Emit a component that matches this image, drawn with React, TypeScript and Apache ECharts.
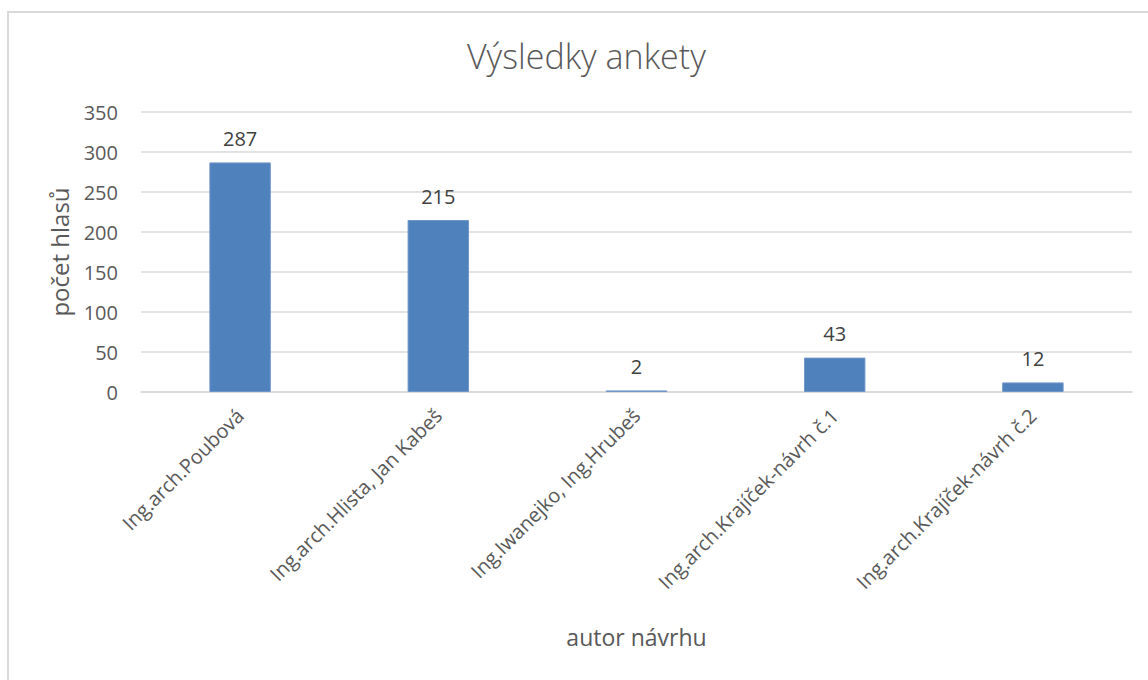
import React, { useEffect, useRef } from "react";
import * as echarts from "echarts";

const categories = [
  "Ing.arch.Poubová",
  "Ing.arch.Hlista, Jan Kabeš",
  "Ing.Iwanejko, Ing.Hrubeš",
  "Ing.arch.Krajíček-návrh č.1",
  "Ing.arch.Krajíček-návrh č.2",
];
const votes = [287, 215, 2, 43, 12];
const yTicks = { min: 0, max: 350, interval: 50 };

const FONT = "'Open Sans', 'Noto Sans', sans-serif";
const TEXT = "#595959";

export default function App() {
  const ref = useRef<HTMLDivElement>(null);
  useEffect(() => {
    if (!ref.current) return;
    const chart = echarts.init(ref.current, undefined, { renderer: "svg" });
    chart.setOption({
      animation: false,
      backgroundColor: "#ffffff",
      title: {
        text: "Výsledky ankety",
        left: 462,
        top: 34,
        textStyle: { fontFamily: FONT, fontSize: 34, fontWeight: 300, color: TEXT },
      },
      graphic: [
        {
          type: "rect",
          shape: { x: 8, y: 12, width: 1200, height: 720 },
          style: { fill: "none", stroke: "#d9d9d9", lineWidth: 2 },
          silent: true,
          z: -1,
        },
      ],
      grid: { left: 141, right: 16, top: 112, bottom: 288 },
      xAxis: {
        type: "category",
        data: categories,
        name: "autor návrhu",
        nameLocation: "middle",
        nameGap: 233,
        nameTextStyle: { fontFamily: FONT, fontSize: 23, color: TEXT },
        axisLine: { lineStyle: { color: "#d9d9d9", width: 1.5 } },
        axisTick: { show: false },
        axisLabel: {
          interval: 0,
          rotate: 45,
          margin: 20,
          fontFamily: FONT,
          fontSize: 20,
          color: TEXT,
        },
      },
      yAxis: {
        type: "value",
        min: yTicks.min,
        max: yTicks.max,
        interval: yTicks.interval,
        name: "počet hlasů",
        nameLocation: "middle",
        nameGap: 70,
        nameTextStyle: { fontFamily: FONT, fontSize: 24, color: TEXT },
        axisLine: { show: false },
        axisTick: { show: false },
        splitLine: { lineStyle: { color: "#d9d9d9", width: 1.5 } },
        axisLabel: { margin: 23, fontFamily: FONT, fontSize: 20, color: TEXT },
      },
      series: [
        {
          type: "bar",
          data: votes,
          barWidth: "31%",
          itemStyle: { color: "#4f81bd", borderColor: "#7096c8", borderWidth: 1 },
          label: {
            show: true,
            position: "top",
            distance: 14,
            fontFamily: FONT,
            fontSize: 20,
            color: "#404040",
          },
        },
      ],
    });
    return () => chart.dispose();
  }, []);
  return (
    <div
      ref={ref}
      style={{ position: "fixed", left: 0, top: 0, width: 1148, height: 680 }}
    />
  );
}
